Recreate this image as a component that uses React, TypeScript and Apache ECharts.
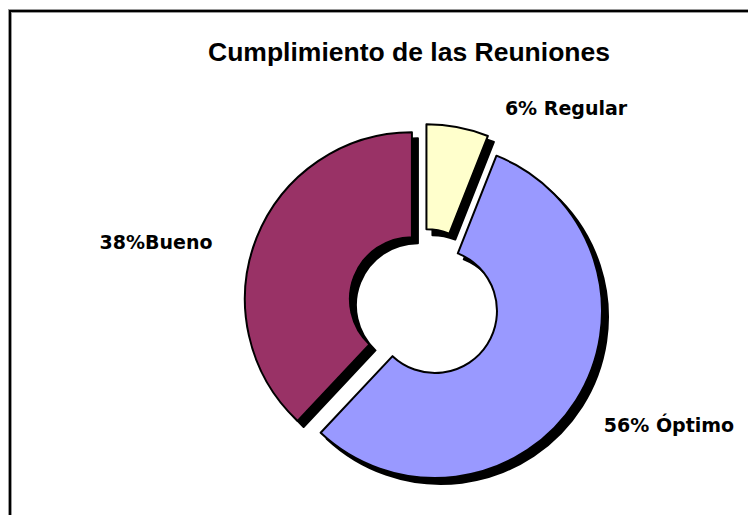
import React, { useEffect, useRef } from "react";
import * as echarts from "echarts";

const titleText = "Cumplimiento de las Reuniones";
const categories = ["Regular", "Óptimo", "Bueno"];
const percents = [6, 56, 38];
const labelTexts = ["6% Regular", "56% Óptimo", "38%Bueno"];
const colors = ["#FFFFCC", "#9999FF", "#993366"];

// label centre positions (chart coordinates)
const labelPos = [
  [554, 95],
  [657, 412],
  [144, 229],
];

export default function App() {
  const ref = useRef<HTMLDivElement>(null);
  useEffect(() => {
    document.documentElement.style.overflow = "hidden";
    document.body.style.overflow = "hidden";
    const chart = echarts.init(ref.current!, undefined, { renderer: "svg" });
    const itemStyleFor = (i: number) => ({
      color: colors[i],
      borderColor: "#000",
      borderWidth: 2,
      shadowColor: "rgba(0,0,0,1)",
      shadowBlur: 0,
      shadowOffsetX: 6,
      shadowOffsetY: 6,
    });
    chart.setOption({
      animation: false,
      backgroundColor: "#fff",
      title: {
        text: titleText,
        left: 392,
        textAlign: "center",
        top: 20,
        textStyle: {
          fontFamily: "Liberation Sans",
          fontSize: 26.5,
          fontWeight: "bold",
          color: "#000",
        },
      },
      graphic: labelTexts.map((t, i) => ({
        type: "text",
        x: labelPos[i][0],
        y: labelPos[i][1],
        style: {
          text: t,
          fontFamily: "DejaVu Sans",
          fontWeight: "bold",
          fontSize: 19,
          fill: "#000",
          align: "center",
          verticalAlign: "middle",
        },
      })),
      series: [
        {
          type: "pie",
          center: [412, 291],
          radius: [62, 167],
          startAngle: 90,
          clockwise: true,
          selectedMode: "multiple",
          selectedOffset: 13,
          emphasis: { disabled: true },
          label: { show: false },
          labelLine: { show: false },
          data: categories.map((c, i) => ({
            name: c,
            value: percents[i],
            selected: true,
            itemStyle: itemStyleFor(i),
            select: { itemStyle: itemStyleFor(i) },
          })),
        },
      ],
    });
    return () => chart.dispose();
  }, []);
  return (
    <div
      style={{
        position: "absolute",
        left: 9,
        top: 10,
        width: 900,
        height: 700,
        border: "2px solid #000",
        boxShadow: "0 0 0 1px #999, inset 1px 1px 0 #999",
        boxSizing: "border-box",
        overflow: "hidden",
      }}
    >
      <div ref={ref} style={{ position: "absolute", left: 1, top: 1, width: 850, height: 600 }} />
    </div>
  );
}
